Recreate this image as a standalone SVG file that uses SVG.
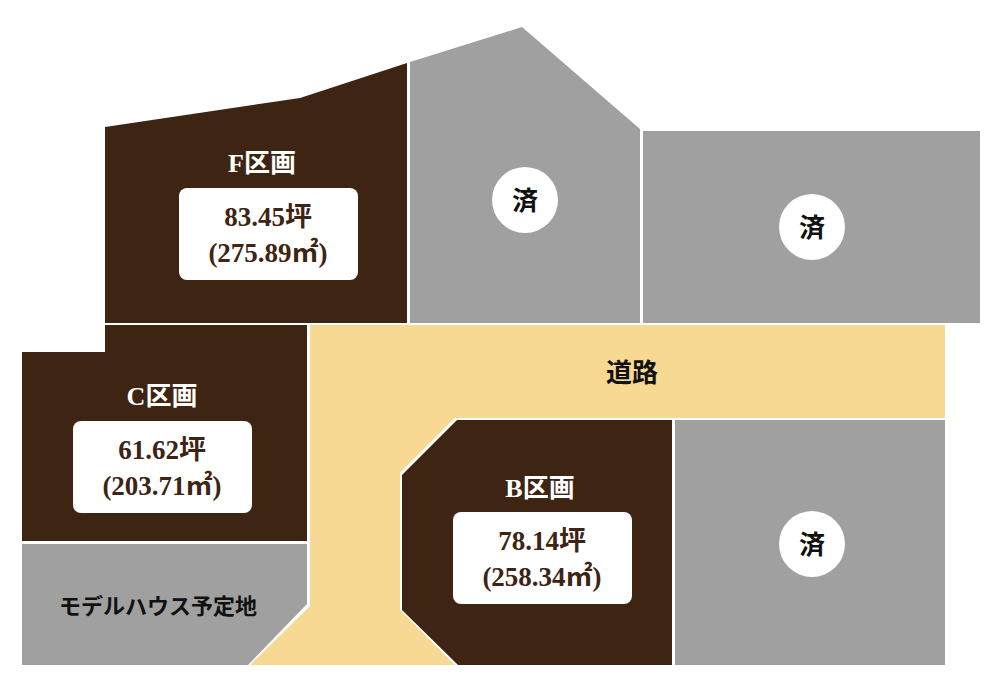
<svg xmlns="http://www.w3.org/2000/svg" width="1000" height="690" viewBox="0 0 1000 690">
<style>
.brown{fill:#3d2413}.gray{fill:#a0a0a0}.road{fill:#f7d993}
.t{font-family:"Liberation Serif","Noto Sans CJK JP",serif;font-weight:bold;text-anchor:middle}
.w{fill:#fff;font-size:26px}.d{fill:#3d2413;font-size:27px}.k{fill:#111;font-size:26px}
.box{fill:#fff}
</style>
<rect width="1000" height="690" fill="#fff"/>
<g id="road"><polygon class="road" points="310,325 945,325 945,418 455,418 400,473 400,610 455,665 250,665 310,606"/><text class="t k" x="632" y="382">道路</text></g>
<g id="F"><polygon class="brown" points="105,127 300,98 407,63 407,323 105,323"/>
<text class="t w" x="262" y="172">F区画</text><rect class="box" x="179" y="188" width="179" height="92" rx="8"/>
<text class="t d" x="268" y="226">83.45坪</text><text class="t d" x="268" y="262">(275.89㎡)</text></g>
<g id="G1"><polygon class="gray" points="410,62 522,27 640,129 640,323 410,323"/><circle cx="525" cy="200" r="33" fill="#fff"/><text class="t k" x="525" y="210">済</text></g>
<g id="G2"><rect class="gray" x="643" y="131" width="337" height="192"/><circle cx="812" cy="227" r="33" fill="#fff"/><text class="t k" x="812" y="237">済</text></g>
<g id="C"><polygon class="brown" points="22,352 105,352 105,325 307,325 307,541 22,541"/>
<text class="t w" x="162" y="405">C区画</text><rect class="box" x="73" y="421" width="179" height="92" rx="8"/>
<text class="t d" x="162" y="459">61.62坪</text><text class="t d" x="162" y="495">(203.71㎡)</text></g>
<g id="M"><polygon class="gray" points="22,544 307,544 307,604 248,665 22,665"/><text class="t" x="158" y="614" font-size="22" fill="#111">モデルハウス予定地</text></g>
<g id="B"><polygon class="brown" points="457,420 672,420 672,665 458,665 402,610 402,475"/>
<text class="t w" x="540" y="497">B区画</text><rect class="box" x="453" y="512" width="179" height="92" rx="8"/>
<text class="t d" x="542" y="550">78.14坪</text><text class="t d" x="542" y="586">(258.34㎡)</text></g>
<g id="G3"><rect class="gray" x="675" y="420" width="270" height="245"/><circle cx="812" cy="544" r="33" fill="#fff"/><text class="t k" x="812" y="554">済</text></g>
<g id="connectors"/>
</svg>
